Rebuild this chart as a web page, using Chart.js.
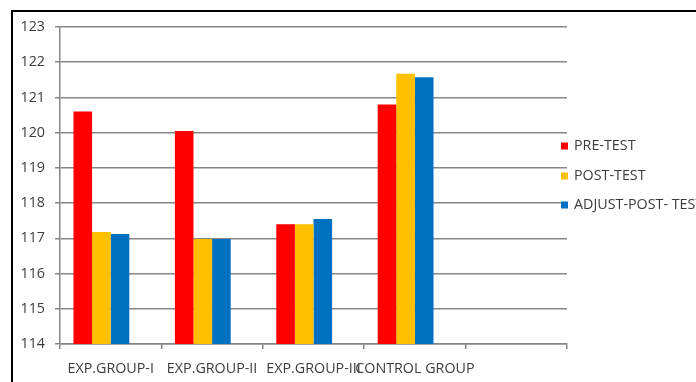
<!DOCTYPE html>
<html>
<head>
<meta charset="utf-8">
<script src="https://cdn.jsdelivr.net/npm/chart.js@4"></script>
<style>
  html, body { margin: 0; padding: 0; background: #fff; overflow: hidden; }
  #wrap { position: relative; width: 696px; height: 382px; }
  #frame { position: absolute; left: 11px; top: 10px; width: 720px; height: 420px; border: 2px solid #000; pointer-events: none; }
  canvas { position: absolute; left: 0; top: 0; }
</style>
</head>
<body>
<div id="wrap">
  <canvas id="groupChart" width="696" height="382"></canvas>
  <div id="frame"></div>
</div>
<script>
const groups = ['EXP.GROUP-I', 'EXP.GROUP-II', 'EXP.GROUP-III', 'CONTROL GROUP', ''];
const preTest = [120.6, 120.05, 117.4, 120.8, null];
const postTest = [117.18, 116.98, 117.4, 121.67, null];
const adjustPostTest = [117.12, 116.98, 117.55, 121.57, null];
const yTicks = [114, 115, 116, 117, 118, 119, 120, 121, 122, 123];

const textColor = '#3c3c3c';
const gridColor = '#868686';
const fontFamily = '"Open Sans", "Noto Sans", sans-serif';

// legend drawn by hand so it sits where the original one does
const sideLegend = {
    id: 'sideLegend',
    afterDraw(chart) {
        const ctx = chart.ctx;
        const rows = [146, 176, 205];
        ctx.save();
        ctx.font = '14.3px ' + fontFamily;
        ctx.textBaseline = 'middle';
        chart.data.datasets.forEach((ds, i) => {
            if (!ds.label) return;
            const y = rows[i];
            ctx.fillStyle = ds.backgroundColor;
            ctx.fillRect(561, y - 3.5, 7, 7);
            ctx.fillStyle = textColor;
            ctx.fillText(ds.label, 574, y);
        });
        ctx.restore();
    }
};

const ctx = document.getElementById('groupChart').getContext('2d');
new Chart(ctx, {
    type: 'bar',
    data: {
        labels: groups,
        datasets: [
            { label: 'PRE-TEST', data: preTest, backgroundColor: '#ff0000' },
            { label: 'POST-TEST', data: postTest, backgroundColor: '#ffc000' },
            { label: 'ADJUST-POST- TEST', data: adjustPostTest, backgroundColor: '#0070c0' },
            { label: '', data: groups.map(() => null), backgroundColor: 'rgba(0,0,0,0)' }
        ]
    },
    options: {
        responsive: false,
        animation: false,
        events: [],
        datasets: {
            bar: { categoryPercentage: 0.734, barPercentage: 1 }
        },
        layout: { padding: { left: 0, top: 27, right: 129, bottom: 0 } },
        plugins: {
            legend: { display: false },
            tooltip: { enabled: false }
        },
        scales: {
            x: {
                grid: { drawOnChartArea: false, color: gridColor, lineWidth: 1.5, tickLength: 5, offset: true },
                border: { color: gridColor, width: 1.5 },
                ticks: {
                    autoSkip: false, maxRotation: 0, minRotation: 0, padding: 11,
                    color: textColor, font: { family: fontFamily, size: 14.3 }
                },
                afterFit: scale => { scale.height = 38; }
            },
            y: {
                min: 114,
                max: 123,
                afterBuildTicks: scale => { scale.ticks = yTicks.map(v => ({ value: v })); },
                grid: { color: gridColor, lineWidth: 1.5, tickLength: 5 },
                border: { color: gridColor, width: 1.5 },
                ticks: {
                    padding: 10, color: textColor,
                    font: { family: fontFamily, size: 14.3 }
                },
                afterFit: scale => { scale.width = 60; }
            }
        }
    },
    plugins: [sideLegend]
});
</script>
</body>
</html>
